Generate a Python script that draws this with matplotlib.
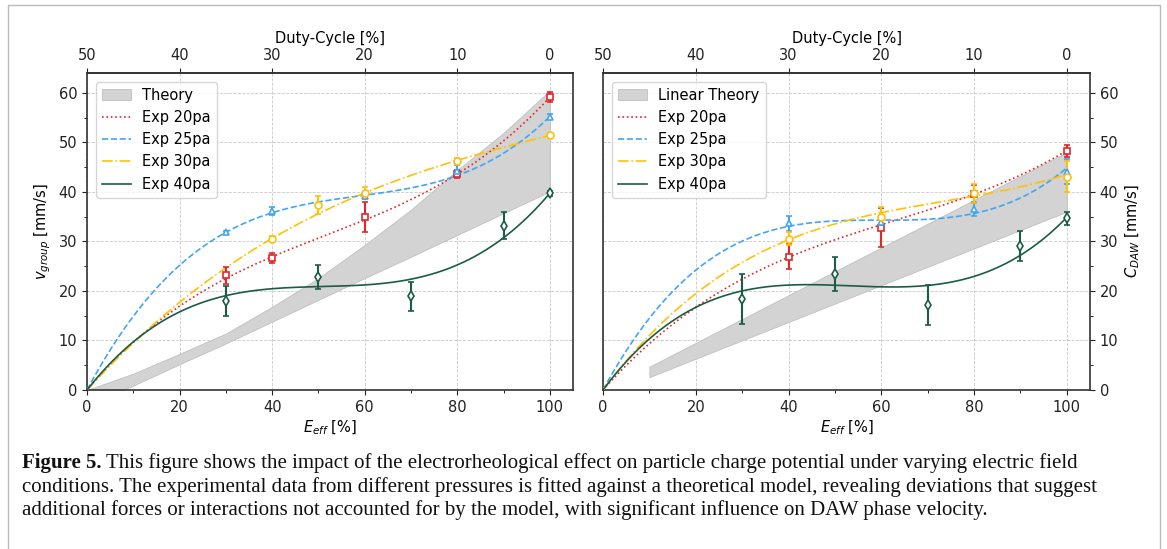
import matplotlib
matplotlib.use('Agg')
import matplotlib.pyplot as plt
import numpy as np
from matplotlib.ticker import AutoMinorLocator
from matplotlib.patches import Rectangle

# ---- left panel: group velocity ----
v20_x = [30, 40, 60, 80, 100]
v20_y = [23.2, 26.6, 35.0, 43.6, 59.1]
v20_err = [1.7, 1.0, 3.0, 0.8, 1.0]

v25_x = [30, 40, 60, 80, 100]
v25_y = [31.8, 36.2, 39.1, 44.2, 55.2]
v25_err = [0.4, 0.8, 0.5, 1.2, 0.5]

v30_x = [40, 50, 60, 80, 100]
v30_y = [30.5, 37.4, 39.7, 46.3, 51.4]
v30_err = [0.5, 1.8, 1.2, 0.6, 0.5]

v40_x = [30, 50, 70, 90, 100]
v40_y = [18.0, 22.8, 18.9, 33.2, 39.7]
v40_err = [3.0, 2.5, 3.0, 2.8, 0.5]

theory_x = [0, 10, 20, 30, 40, 50, 60, 70, 80, 90, 100]
theory_hi = [0, 3.3, 7.3, 11.4, 16.8, 22.6, 29.3, 36.4, 44.4, 51.9, 60.5]
theory_lo = [-3.3, 0.9, 5.2, 9.4, 13.8, 18.2, 22.6, 26.9, 31.3, 35.7, 40.1]

# ---- right panel: DAW phase velocity ----
c20_x = [40, 60, 80, 100]
c20_y = [26.9, 32.8, 39.6, 48.3]
c20_err = [2.5, 4.0, 1.8, 1.2]

c25_x = [40, 60, 80, 100]
c25_y = [33.7, 34.0, 36.5, 44.1]
c25_err = [1.5, 0.7, 1.4, 2.5]

c30_x = [40, 60, 80, 100]
c30_y = [30.5, 35.0, 39.7, 43.1]
c30_err = [1.3, 1.9, 1.85, 3.2]

c40_x = [30, 50, 70, 90, 100]
c40_y = [18.4, 23.4, 17.2, 29.1, 34.7]
c40_err = [5.0, 3.5, 4.0, 3.0, 1.3]

lin_x = [10, 100]
lin_hi = [4.7, 48.0]
lin_lo = [2.6, 36.0]

duty_ticks = [50, 40, 30, 20, 10, 0]

styles = [
    ('Exp 20pa', '#e3262a', ':', 's'),
    ('Exp 25pa', '#42a5f5', '--', '^'),
    ('Exp 30pa', '#ffc107', '-.', 'o'),
    ('Exp 40pa', '#1b5c47', '-', 'd'),
]

FS = 10.5


def cubic_fit(x, y, err):
    # weighted cubic through the origin
    x = np.asarray(x, float)
    w = 1.0 / np.asarray(err, float)
    A = np.vstack([x, x**2, x**3]).T
    coef, *_ = np.linalg.lstsq(A * w[:, None], np.asarray(y) * w, rcond=None)
    xf = np.linspace(0, 100, 300)
    return xf, coef[0] * xf + coef[1] * xf**2 + coef[2] * xf**3


def draw_panel(ax, series, bx, bhi, blo, band_label):
    ax.fill_between(bx, blo, bhi, facecolor='lightgray', edgecolor='#c0c0c0',
                    linewidth=0.6, label=band_label, zorder=1)
    for (label, color, ls, mk), (x, y, e) in zip(styles, series):
        xf, yf = cubic_fit(x, y, e)
        ax.plot(xf, yf, ls=ls, color=color, lw=1.2, label=label, zorder=3)
        ax.errorbar(x, y, yerr=e, fmt=mk, color=color, mfc='white', mec=color,
                    ms=5, mew=1.2, elinewidth=1.5, capsize=2, capthick=1.2, zorder=4)
    ax.set_xlim(0, 105)
    ax.set_ylim(0, 64)
    ax.set_xticks([0, 20, 40, 60, 80, 100])
    ax.set_yticks([0, 10, 20, 30, 40, 50, 60])
    ax.xaxis.set_minor_locator(AutoMinorLocator(2))
    ax.yaxis.set_minor_locator(AutoMinorLocator(2))
    ax.grid(True, which='major', linestyle='--', linewidth=0.6, color='#bbbbbb', alpha=0.8)
    ax.set_axisbelow(True)
    ax.tick_params(labelsize=FS, colors='#222222')
    for sp in ax.spines.values():
        sp.set_color('#333333')
        sp.set_linewidth(1.2)
    ax.set_xlabel('$E_{eff}$ [%]', fontsize=FS, labelpad=3)
    top = ax.secondary_xaxis('top', functions=(lambda e: 50 - e / 2, lambda d: 100 - 2 * d))
    top.set_xticks(duty_ticks)
    top.set_xlabel('Duty-Cycle [%]', fontsize=FS)
    top.tick_params(labelsize=FS, colors='#222222')
    top.spines['top'].set_color('#333333')
    top.spines['top'].set_linewidth(1.2)
    ax.legend(loc='upper left', fontsize=FS, borderaxespad=0.6)


fig = plt.figure(figsize=(11.67, 5.49), dpi=100)
W, H = 1167, 549
ax1 = fig.add_axes([87 / W, 159 / H, 486 / W, 317 / H])
ax2 = fig.add_axes([603 / W, 159 / H, 487 / W, 317 / H])

draw_panel(ax1, [(v20_x, v20_y, v20_err), (v25_x, v25_y, v25_err),
                 (v30_x, v30_y, v30_err), (v40_x, v40_y, v40_err)],
           theory_x, theory_hi, theory_lo, 'Theory')
ax1.set_ylabel('$v_{group}$ [mm/s]', fontsize=FS)

draw_panel(ax2, [(c20_x, c20_y, c20_err), (c25_x, c25_y, c25_err),
                 (c30_x, c30_y, c30_err), (c40_x, c40_y, c40_err)],
           lin_x, lin_hi, lin_lo, 'Linear Theory')
ax2.yaxis.tick_right()
ax2.yaxis.set_label_position('right')
ax2.set_ylabel('$C_{DAW}$ [mm/s]', fontsize=FS)

# caption
cap_font = dict(family='Liberation Serif', size=15.0, color='#111111')
t1 = fig.text(22 / W, 1 - 468 / H, 'Figure 5.', fontweight='bold', va='baseline', **cap_font)
fig.canvas.draw()
bb = t1.get_window_extent()
fig.text(bb.x1 / W + 4 / W, 1 - 468 / H,
         'This figure shows the impact of the electrorheological effect on particle charge '
         'potential under varying electric field', va='baseline', **cap_font)
fig.text(22 / W, 1 - 492 / H,
         'conditions. The experimental data from different pressures is fitted against a '
         'theoretical model, revealing deviations that suggest', va='baseline', **cap_font)
fig.text(22 / W, 1 - 515 / H,
         'additional forces or interactions not accounted for by the model, with significant '
         'influence on DAW phase velocity.', va='baseline', **cap_font)

fig.patches.append(Rectangle((8 / W, -0.02), 1152 / W, 1 - 5 / H + 0.02,
                             transform=fig.transFigure, fill=False,
                             edgecolor='#bbbbbb', linewidth=1.0))

fig.savefig('out.png', dpi=100)
